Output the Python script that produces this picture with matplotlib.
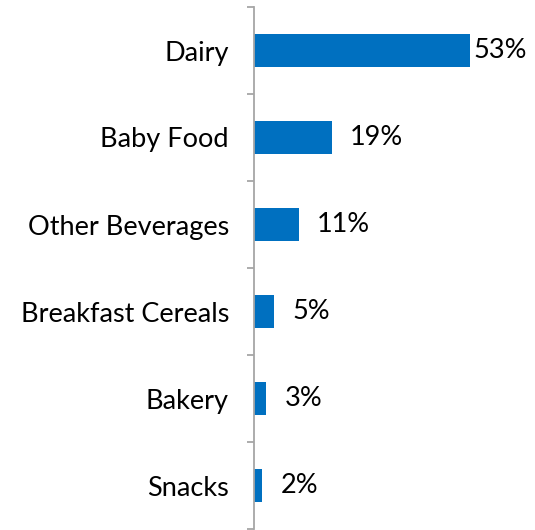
import matplotlib
matplotlib.use("Agg")
import matplotlib.pyplot as plt
import numpy as np

categories = ['Dairy', 'Baby Food', 'Other Beverages', 'Breakfast Cereals', 'Bakery', 'Snacks']
shares = [53, 19, 11, 5, 3, 2]

plt.rcParams['font.family'] = ['Lato', 'DejaVu Sans']

fig = plt.figure(figsize=(5.35, 5.3), dpi=100)
ax = fig.add_axes([254 / 535, 1 / 530, 1 - 254 / 535, 522 / 530])

y = np.arange(len(categories))
ax.barh(y, shares, height=0.38, color='#0070C0')
ax.set_ylim(len(categories) - 0.5, -0.5)
xmax = (535 - 254) / 4.08
ax.set_xlim(0, xmax)

# value labels, pulled back inside when they would run off the edge
for yi, v in zip(y, shares):
    xpos = min(v + 4.5, 53.9)
    ax.text(xpos, yi, f'{v}%', va='center', ha='left', fontsize=19.5, color='#000000')

ax.set_yticks(y)
ax.set_yticklabels(categories, fontsize=19.5, color='#000000')
ax.tick_params(axis='y', which='major', length=0, pad=18)
ax.set_yticks(np.arange(-0.5, len(categories)), minor=True)
ax.tick_params(axis='y', which='minor', length=5, width=1.3, color='#A6A6A6')
ax.set_xticks([])

for s in ['top', 'right', 'bottom']:
    ax.spines[s].set_visible(False)
ax.spines['left'].set_color('#A6A6A6')
ax.spines['left'].set_linewidth(1.3)

fig.savefig('out.png', dpi=100)
